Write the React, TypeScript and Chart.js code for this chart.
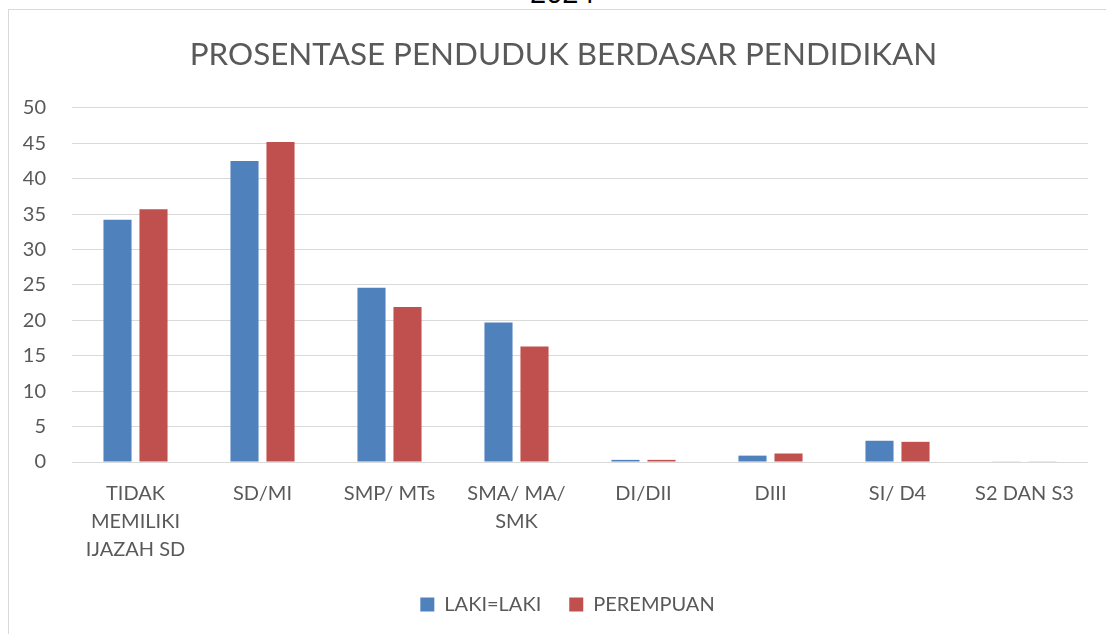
import React, { useEffect, useRef } from "react";
import { Chart, registerables } from "chart.js";

Chart.register(...registerables);

const categories: (string | string[])[] = [
  ["TIDAK", "MEMILIKI", "IJAZAH SD"],
  "SD/MI",
  "SMP/ MTs",
  ["SMA/ MA/", "SMK"],
  "DI/DII",
  "DIII",
  "SI/ D4",
  "S2 DAN S3",
];
const lakiLaki = [34.2, 42.5, 24.6, 19.7, 0.3, 0.9, 3.0, 0.05];
const perempuan = [35.7, 45.2, 21.9, 16.3, 0.3, 1.2, 2.85, 0.05];
const yTicks = [0, 5, 10, 15, 20, 25, 30, 35, 40, 45, 50];

const TEXT = "#595959";
const FONT = "Lato, 'Open Sans', sans-serif";

const shiftBlocks = {
  id: "shiftBlocks",
  afterLayout(chart: any) {
    const t = chart.titleBlock;
    if (t) {
      t.left += 15;
      t.right += 15;
    }
    const l = chart.legend;
    if (l) {
      l.left += 19;
      l.right += 19;
    }
  },
};

export default function App() {
  const ref = useRef<HTMLCanvasElement | null>(null);

  useEffect(() => {
    if (!ref.current) return;
    const chart = new Chart(ref.current, {
      type: "bar",
      data: {
        labels: categories,
        datasets: [
          {
            label: "LAKI=LAKI",
            data: lakiLaki,
            backgroundColor: "#4f81bd",
            categoryPercentage: 0.567,
            barPercentage: 0.78,
          },
          {
            label: "PEREMPUAN",
            data: perempuan,
            backgroundColor: "#c0504d",
            categoryPercentage: 0.567,
            barPercentage: 0.78,
          },
        ],
      },
      options: {
        responsive: false,
        animation: false,
        layout: { padding: { left: 0, right: 18, top: 0, bottom: 9.5 } },
        plugins: {
          title: {
            display: true,
            text: "PROSENTASE PENDUDUK BERDASAR PENDIDIKAN",
            color: TEXT,
            font: { family: FONT, size: 31.4, weight: "normal" },
            padding: { top: 26, bottom: 34.3 },
          },
          legend: {
            position: "bottom",
            labels: {
              color: TEXT,
              font: { family: FONT, size: 20 },
              boxWidth: 14,
              boxHeight: 14,
              padding: 28,
            },
          },
          tooltip: { enabled: false },
        },
        scales: {
          x: {
            grid: { display: false, drawTicks: false },
            border: { display: false },
            ticks: {
              color: TEXT,
              font: { family: FONT, size: 20, lineHeight: 1.4 },
              padding: 18,
              maxRotation: 0,
              autoSkip: false,
            },
            afterFit: (axis: any) => {
              axis.height = 104.5;
            },
          },
          y: {
            min: 0,
            max: 50,
            afterBuildTicks: (axis: any) => {
              axis.ticks = yTicks.map((v) => ({ value: v }));
            },
            grid: { color: "#d9d9d9", lineWidth: 1, drawTicks: false },
            border: { display: false },
            ticks: {
              color: TEXT,
              font: { family: FONT, size: 20 },
              padding: 26,
            },
            afterFit: (axis: any) => {
              axis.width = 63;
            },
          },
        },
      },
      plugins: [shiftBlocks],
    });
    return () => chart.destroy();
  }, []);

  return (
    <div
      style={{
        position: "fixed",
        left: 0,
        top: 0,
        width: 1106,
        height: 634,
        overflow: "hidden",
        background: "#fff",
      }}
    >
      <div
        style={{
          position: "absolute",
          left: 530,
          top: -19,
          fontFamily: "'Liberation Sans', Arial, sans-serif",
          fontSize: 29,
          color: "#000",
          lineHeight: "24px",
        }}
      >
        2024
      </div>
      <div
        style={{
          position: "absolute",
          left: 8,
          top: 9,
          width: 1110,
          height: 650,
          border: "1px solid #d9d9d9",
          boxSizing: "border-box",
        }}
      >
        <canvas ref={ref} width={1097} height={624} style={{ display: "block" }} />
      </div>
    </div>
  );
}
